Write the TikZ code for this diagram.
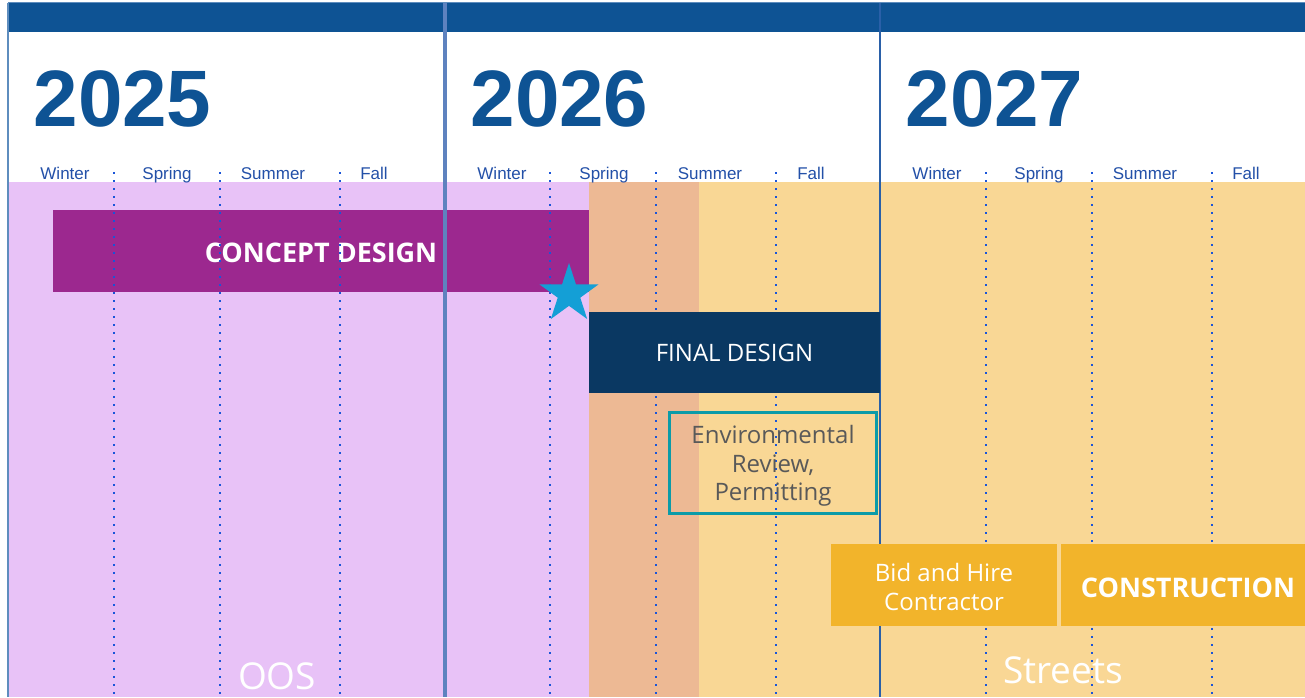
\documentclass[tikz,border=0pt]{standalone}
\usepackage{fontspec}
\setmainfont{Open Sans}
\newfontfamily\labelfont{Liberation Sans}
\usetikzlibrary{shapes.geometric}
\definecolor{headblue}{HTML}{0E5394}
\definecolor{seasonblue}{HTML}{2350A8}
\definecolor{dotblue}{HTML}{1A55D8}
\definecolor{edgeblue}{HTML}{5E8DBE}
\definecolor{dividerA}{HTML}{5E82BF}
\definecolor{dividerB}{HTML}{2A60A8}
\definecolor{oosband}{HTML}{E8C2F7}
\definecolor{overlapband}{HTML}{EDB994}
\definecolor{streetband}{HTML}{F9D795}
\definecolor{conceptpurple}{HTML}{9C288F}
\definecolor{finalnavy}{HTML}{0A3862}
\definecolor{reviewteal}{HTML}{0C9BA8}
\definecolor{reviewgrey}{HTML}{595959}
\definecolor{bidgold}{HTML}{F2B42B}
\definecolor{starblue}{HTML}{149FD6}

\begin{document}
\begin{tikzpicture}[
    x=1pt, y=-1pt,
    bar/.style={inner sep=0pt, text=white, align=center, font=\fontsize{24}{29}\selectfont},
    bigbar/.style={bar, font=\bfseries\fontsize{27}{32}\selectfont, text depth=0pt},
    bartext/.style={inner sep=0pt, align=center, font=\fontsize{24}{29}\selectfont},
    year/.style={anchor=base west, text=headblue, font=\labelfont\bfseries\fontsize{80}{90}\selectfont},
    season/.style={anchor=base, text=seasonblue, font=\labelfont\fontsize{17}{20}\selectfont},
    quarter/.style={dotblue, line width=2.4pt, dash pattern=on 2.4pt off 5.6pt},
    zone/.style={anchor=base, text=white, font=\fontsize{37}{40}\selectfont}
]
\useasboundingbox (0,0) rectangle (1305,697);
\fill[white] (0,0) rectangle (1305,697);

% Bands
\fill[oosband] (8,182) rectangle (589,697);
\fill[overlapband] (589,182) rectangle (699,697);
\fill[streetband] (699,182) rectangle (1305,697);

% Header
\fill[headblue] (8,3) rectangle (1305,32);
\draw[edgeblue, line width=1pt] (8,2.5) -- (1305,2.5);
\draw[edgeblue, line width=2pt] (8,3) -- (8,697);

% Concept design
\node[bigbar, fill=conceptpurple, minimum width=536pt, minimum height=82pt, text height=23.3pt] (concept) at (321,251) {CONCEPT DESIGN};

% Year dividers
\draw[dividerA, line width=3.5pt] (445,3) -- (445,697);
\draw[dividerB, line width=2pt] (880,3) -- (880,697);

% Years and seasons
\foreach \yr/\off in {2025/0, 2026/437, 2027/872} {
  \node[year] (year\yr) at (30+\off,126) {\yr};
  \node[season] (winter\yr) at (65+\off,179) {Winter};
  \node[season] (spring\yr) at (167+\off,179) {Spring};
  \node[season] (summer\yr) at (273+\off,179) {Summer};
  \node[season] (fall\yr) at (374+\off,179) {Fall};
}

% Zone labels
\node[zone] (oos) at (277,689) {OOS};
\node[zone] (streets) at (1063,683) {Streets};

% Season lines
\foreach \off in {0, 436, 872} {
  \foreach \q in {114, 220, 340}
    \draw[quarter] (\q+\off,172) -- (\q+\off,697);
}

% Phases
\node[bar, fill=finalnavy, minimum width=291pt, minimum height=81pt] (final) at (734.5,352.5) {FINAL DESIGN};
\node[bar, draw=reviewteal, line width=3pt, minimum width=207pt, minimum height=101pt] (review) at (773,463) {};
\node[bartext, text=reviewgrey, font=\fontsize{24}{28.5}\selectfont] (reviewtext) at ([yshift=-3pt]review.center) {Environmental\\Review,\\Permitting};
\node[bar, fill=bidgold, minimum width=226pt, minimum height=82pt] (bid) at (944,585) {};
\node[bartext, text=white] (bidtext) at ([yshift=-2pt]bid.center) {Bid and Hire\\Contractor};
\node[bigbar, fill=bidgold, minimum width=254pt, minimum height=82pt, text height=25.3pt] (construction) at (1188,585) {CONSTRUCTION};

% Milestone
\node[star, star points=5, star point ratio=2.618, minimum size=62pt, inner sep=0pt, fill=starblue] (milestone) at (569,294) {};
\end{tikzpicture}
\end{document}
